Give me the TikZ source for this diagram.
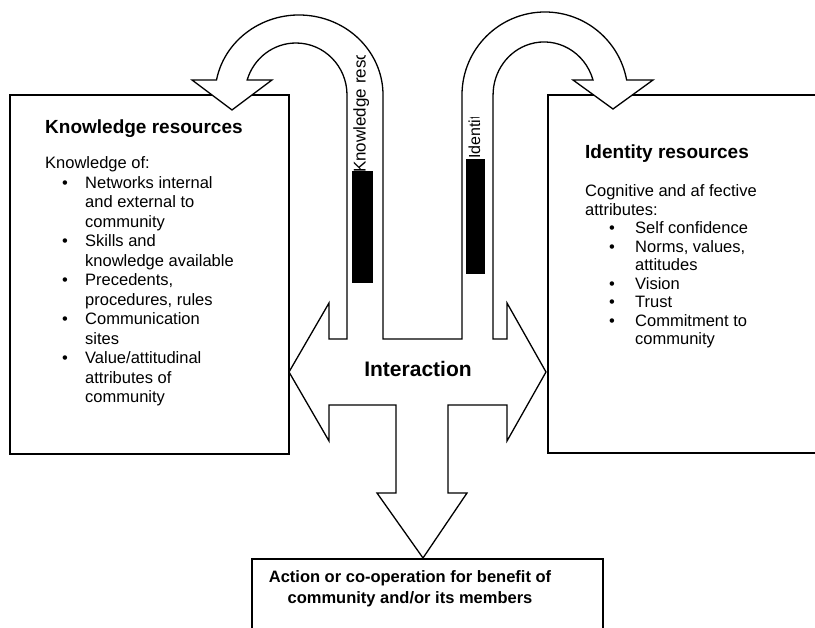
\documentclass[tikz,border=0pt]{standalone}
\usepackage{fontspec}
\setmainfont{Liberation Sans}
\tikzset{
  boxline/.style={line width=1.4pt},
  blockarrow/.style={draw, fill=white, line width=1.3pt, line join=miter},
  headtext/.style={anchor=base west, inner sep=0pt, font=\bfseries\fontsize{19}{22}\selectfont},
  bodytext/.style={anchor=base west, inner sep=0pt, font=\fontsize{16.5}{19}\selectfont},
  itemdot/.style={anchor=base, inner sep=0pt, font=\fontsize{16.5}{19}\selectfont},
  tagtext/.style={rotate=90, anchor=base west, inner sep=0pt},
  boldtext/.style={anchor=base, inner sep=0pt, font=\bfseries\fontsize{16.5}{19}\selectfont}
}

\begin{document}
\begin{tikzpicture}[x=1pt, y=-1pt]
    \useasboundingbox (0,0) rectangle (815,628);

    % boxes
    \draw[boxline] (10,95) rectangle (289,454);
    \draw[boxline] (815,95) -- (548,95) -- (548,453) -- (815,453);
    \draw[boxline] (252,628) -- (252,559) -- (603,559) -- (603,628);

    % block arrows in one outline
    \draw[blockarrow] (289,372) -- (329,303) -- (329,339) -- (347,339) -- (347,95)
        arc[start angle=0, end angle=-163.2, x radius=51, y radius=52]
        -- (272,80) -- (232,110) -- (192,80) -- (216.5,80)
        arc[start angle=-169.2, end angle=0, x radius=84, y radius=80]
        -- (383,339) -- (462,339) -- (462,95)
        arc[start angle=-180, end angle=-10.4, x radius=83, y radius=83]
        -- (653,80) -- (613,109) -- (573,80) -- (593,80)
        arc[start angle=-16.4, end angle=-180, x radius=51, y radius=53]
        -- (493,339) -- (507,339) -- (507,303) -- (546,372) -- (507,441) -- (507,405)
        -- (448,405) -- (448,493) -- (467,493) -- (423,558) -- (377,493) -- (396,493)
        -- (396,405) -- (329,405) -- (329,441) -- cycle;

    \fill (352,171) rectangle (373,283);
    \fill (466,159) rectangle (485,274);

    \begin{scope}
        \clip (346,56) rectangle (383,180);
        \node[tagtext, font=\fontsize{17}{20}\selectfont] (KT) at (365.5,173) {Knowledge resources};
    \end{scope}
    \begin{scope}
        \clip (463,118) rectangle (492,165);
        \node[tagtext, font=\fontsize{16}{19}\selectfont] (IT) at (480,159) {Identity resources};
    \end{scope}

    % knowledge box
    \node[headtext] (KH) at (45,134) {Knowledge resources};
    \node[bodytext] (K0) at (45,169) {Knowledge of:};
    \foreach \yy/\txt [count=\i] in {188.5/Networks internal, 208/and external to, 227.5/community,
        247/Skills and, 266.5/knowledge available, 286/{Precedents,}, 305.5/{procedures, rules},
        325/Communication, 344.5/sites, 364/{Value/attitudinal}, 383.5/attributes of, 403/community}
        \node[bodytext] (K\i) at (85,\yy) {\txt};
    \foreach \yy [count=\i] in {188.5, 247, 286, 325, 364}
        \node[itemdot] (KB\i) at (65,\yy) {\textbullet};

    % identity box
    \node[headtext] (IH) at (585,159) {Identity resources};
    \node[bodytext] (I0) at (585,197) {Cognitive and af fective};
    \node[bodytext] (I00) at (585,215.5) {attributes:};
    \foreach \yy/\txt [count=\i] in {234/Self confidence, 252.5/{Norms, values,}, 271/attitudes,
        289.5/Vision, 308/Trust, 326.5/Commitment to, 345/community}
        \node[bodytext] (I\i) at (635,\yy) {\txt};
    \foreach \yy [count=\i] in {234, 252.5, 289.5, 308, 326.5}
        \node[itemdot] (IB\i) at (612,\yy) {\textbullet};

    % centre and bottom
    \node[boldtext, font=\bfseries\fontsize{21}{24}\selectfont] (IA) at (418,377) {Interaction};
    \node[boldtext] (AC1) at (410,583) {Action or co-operation for benefit of};
    \node[boldtext] (AC2) at (410,603) {community and/or its members};
\end{tikzpicture}
\end{document}
